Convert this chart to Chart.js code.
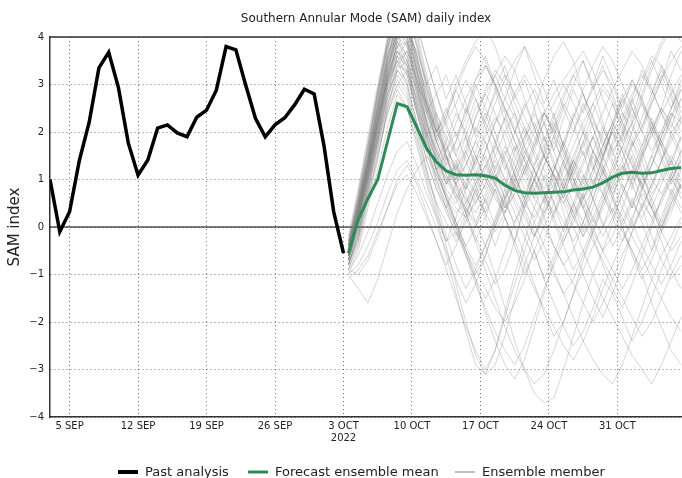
<!DOCTYPE html>
<html>
<head>
<meta charset="utf-8">
<script src="https://cdn.jsdelivr.net/npm/chart.js@4.4.1/dist/chart.umd.min.js"></script>
<style>
  html, body { margin: 0; padding: 0; background: #fff; overflow: hidden; }
  #wrap { width: 682px; height: 478px; }
</style>
</head>
<body>
<div id="wrap"><canvas id="samChart" width="682" height="478"></canvas></div>
<script>
/* SAM daily index: past analysis + forecast ensemble */

// x values are day numbers counted from 3 SEP 2022
const tickDays = [2, 9, 16, 23, 30, 37, 44, 51, 58];
const tickLabels = ["5 SEP", "12 SEP", "19 SEP", "26 SEP", ["3 OCT", "2022"], "10 OCT", "17 OCT", "24 OCT", "31 OCT"];

// past analysis, one value per day from 3 SEP to 3 OCT
const pastValues = [1.0, -0.1, 0.32, 1.4, 2.2, 3.35, 3.68, 2.93, 1.77, 1.09, 1.41, 2.08, 2.15, 1.98, 1.9, 2.31,
  2.46, 2.88, 3.8, 3.73, 2.99, 2.29, 1.9, 2.15, 2.3, 2.57, 2.9, 2.8, 1.72, 0.32, -0.55];

// forecast starts half a day after the last analysis
const forecastStart = 30.5;
const meanValues = [-0.55, 0.15, 0.6, 1.0, 1.8, 2.6, 2.53, 2.1, 1.65, 1.37, 1.18, 1.1, 1.09, 1.1, 1.08, 1.03,
  0.88, 0.77, 0.72, 0.71, 0.72, 0.73, 0.74, 0.78, 0.8, 0.84, 0.93, 1.05, 1.13, 1.15, 1.13, 1.14, 1.19, 1.23, 1.25];

const ensembleMembers = [
  [-0.6,0.2,1.1,2.0,3.0,3.6,3.2,2.5,1.8,1.2,0.6,0.3,0.5,1.0,1.6,2.2,2.5,2.1,1.4,0.8,0.2,-0.4,-0.8,-0.5,0.1,0.8,1.5,2.0,2.4,2.1,1.6,1.0,0.7,1.1,1.6],
  [-0.4,0.5,1.4,2.4,3.3,4.2,4.4,3.6,2.8,2.0,1.5,1.2,1.6,2.3,2.9,3.3,3.0,2.4,1.7,1.2,1.5,2.1,2.7,3.2,3.5,3.0,2.2,1.6,1.9,2.6,3.1,3.6,3.4,2.8,2.3],
  [-0.8,-0.3,0.6,1.5,2.4,2.9,2.5,1.7,0.9,0.2,-0.6,-1.4,-2.2,-2.9,-3.1,-2.6,-1.8,-1.0,-0.3,0.4,1.0,1.3,0.9,0.3,-0.2,0.4,1.1,1.7,2.2,1.8,1.2,0.5,0.0,0.6,1.2],
  [-0.5,0.3,1.2,2.2,3.1,3.8,3.9,3.1,2.3,1.6,1.1,0.7,0.4,0.1,-0.4,-1.0,-1.7,-2.4,-3.0,-3.5,-3.7,-3.6,-3.0,-2.3,-1.6,-1.0,-0.5,0.1,0.7,1.2,0.9,0.4,-0.1,0.3,0.9],
  [-0.7,0.0,0.9,1.8,2.7,3.4,3.7,3.0,2.1,1.4,1.0,1.3,1.9,2.5,2.8,2.4,1.8,1.1,0.5,0.2,0.6,1.2,1.8,2.4,2.0,1.3,0.7,0.2,-0.3,0.1,0.8,1.5,2.0,2.5,2.9],
  [-0.3,0.6,1.7,2.8,3.8,4.5,4.3,3.5,2.6,2.0,2.3,2.9,3.4,3.8,3.5,2.9,2.2,1.6,1.9,2.5,3.1,3.6,3.9,3.5,2.8,2.1,1.5,1.0,1.4,2.0,2.7,3.3,3.8,4.2,3.9],
  [-1.0,-0.8,-0.4,0.1,0.7,1.2,1.4,1.0,0.5,0.0,-0.5,-1.1,-1.6,-1.2,-0.6,0.1,0.8,1.4,1.9,2.2,1.7,1.0,0.3,-0.4,-1.0,-1.5,-1.9,-1.4,-0.8,-0.1,0.5,0.2,-0.3,-0.9,-1.3],
  [-0.6,0.1,1.0,2.1,3.2,4.0,4.6,4.1,3.2,2.3,1.5,0.8,0.3,-0.2,-0.7,-1.2,-0.9,-0.3,0.4,1.0,1.5,1.9,1.6,1.1,0.6,0.9,1.5,2.1,2.6,3.0,2.7,2.1,1.5,1.0,0.7],
  [-0.5,0.4,1.3,2.3,3.1,3.5,3.0,2.2,1.4,0.8,0.4,0.9,1.5,2.1,1.8,1.2,0.6,0.0,-0.6,-1.2,-1.8,-2.3,-2.0,-1.4,-0.7,-0.1,0.5,1.1,1.7,2.2,2.6,2.2,1.7,1.1,0.6],
  [-0.9,-0.4,0.5,1.4,2.5,3.3,3.5,2.9,2.0,1.3,0.6,0.1,-0.5,-1.1,-1.8,-2.4,-2.9,-3.2,-2.8,-2.1,-1.4,-0.7,-0.2,0.4,1.0,1.6,1.2,0.6,0.0,-0.6,-1.1,-0.7,-0.1,0.5,1.0],
  [-0.4,0.5,1.5,2.6,3.6,4.3,4.1,3.3,2.5,1.9,1.4,1.0,1.3,1.8,1.4,0.9,0.4,0.7,1.2,1.8,2.4,2.1,1.6,1.0,0.5,0.0,-0.5,-0.2,0.4,1.0,1.6,2.1,2.5,2.2,1.8],
  [-0.7,-0.1,0.8,1.7,2.6,3.2,2.9,2.1,1.2,0.4,-0.4,-1.2,-2.0,-2.7,-3.1,-2.9,-2.3,-1.5,-0.8,-0.2,0.3,0.8,1.3,1.0,0.4,-0.2,-0.8,-1.3,-1.7,-1.2,-0.6,0.0,0.6,1.0,1.4],
  [-0.5,0.3,1.3,2.4,3.4,4.1,4.7,4.3,3.5,2.8,2.2,2.6,3.1,2.7,2.1,1.5,1.0,0.6,0.2,-0.2,0.2,0.8,1.4,2.0,2.5,2.9,3.3,3.0,2.4,1.9,1.5,1.9,2.4,2.8,3.2],
  [-0.6,0.2,1.1,1.9,2.8,3.3,3.1,2.4,1.7,1.1,0.7,0.4,0.2,0.5,0.9,1.4,1.0,0.5,0.0,-0.5,-1.1,-1.6,-2.1,-2.5,-2.2,-1.7,-1.1,-1.4,-1.9,-2.4,-2.0,-1.5,-0.9,-0.4,0.1],
  [-0.8,-0.2,0.7,1.6,2.5,3.0,3.3,2.7,1.9,1.2,1.6,2.2,2.7,3.1,3.4,3.0,2.4,1.8,1.4,1.0,0.7,0.3,0.7,1.2,1.7,2.2,1.9,1.4,0.9,0.5,0.2,0.6,1.1,1.5,1.2],
  [-0.3,0.7,1.8,2.9,3.9,4.6,4.8,4.0,3.1,2.4,1.9,1.5,1.1,0.7,0.3,-0.1,0.3,0.9,1.5,2.0,2.4,2.8,3.1,3.4,3.7,3.3,2.7,2.2,1.8,2.2,2.8,3.4,3.9,4.3,4.6],
  [-1.1,-0.9,-0.6,-0.1,0.4,0.9,1.1,0.7,0.2,-0.3,-0.8,-0.4,0.2,0.8,1.3,1.7,1.4,0.9,0.4,-0.1,-0.6,-1.0,-1.4,-1.1,-0.6,-0.1,0.4,0.9,1.3,0.9,0.4,-0.2,-0.7,-1.1,-0.8],
  [-0.5,0.4,1.4,2.5,3.5,4.2,4.0,3.2,2.4,1.7,1.1,0.6,0.2,-0.3,-0.9,-1.5,-2.1,-2.6,-3.0,-3.3,-3.1,-2.6,-2.0,-1.4,-0.9,-0.4,0.0,0.4,0.0,-0.5,-1.0,-1.6,-2.1,-2.6,-2.9],
  [-0.6,0.2,1.2,2.2,3.2,3.9,3.6,2.8,2.0,1.4,0.9,1.2,1.7,2.3,2.8,3.2,3.6,3.3,2.7,2.1,1.5,1.1,0.8,1.2,1.8,2.4,2.9,2.6,2.1,1.6,1.1,0.7,1.0,1.4,1.9],
  [-0.7,0.1,1.0,2.0,2.9,3.5,3.7,3.1,2.2,1.4,0.7,0.1,-0.4,0.0,0.6,1.1,0.8,0.3,-0.2,-0.7,-0.3,0.3,0.9,1.5,2.0,1.6,1.1,0.6,0.2,-0.2,-0.6,-1.1,-1.5,-1.9,-2.2],
  [-0.4,0.6,1.6,2.7,3.7,4.4,4.2,3.4,2.6,2.0,1.6,1.3,0.9,0.5,0.9,1.5,2.0,2.4,2.0,1.5,1.0,0.5,0.1,-0.3,0.1,0.6,1.2,1.8,2.3,2.8,3.2,2.9,2.4,1.9,1.5],
  [-0.9,-1.0,-0.7,-0.2,0.4,1.0,1.3,0.9,0.3,-0.3,-0.9,-1.5,-2.1,-2.6,-3.0,-2.6,-1.9,-1.2,-0.5,0.1,0.6,0.9,0.5,0.0,-0.5,-1.0,-1.5,-1.9,-2.3,-2.7,-3.0,-3.3,-2.9,-2.4,-1.9],
  [-0.5,0.3,1.2,2.1,3.0,3.7,3.4,2.6,1.8,1.2,0.8,0.5,0.9,1.4,2.0,2.6,3.1,3.5,3.8,3.4,2.9,2.3,1.7,1.2,0.8,1.2,1.7,2.2,1.8,1.3,0.9,1.3,1.8,2.3,2.7],
  [-0.6,0.2,1.0,1.9,2.8,3.4,3.3,2.5,1.7,1.0,0.5,0.0,-0.5,-1.0,-0.6,0.0,0.6,1.1,1.6,1.2,0.7,0.2,-0.3,0.1,0.6,1.1,1.6,2.0,1.6,1.1,0.6,0.2,0.5,1.0,1.4],
  [-0.2,0.8,1.9,3.0,4.0,4.7,4.5,3.8,3.0,2.3,1.7,1.2,0.8,1.1,1.6,2.2,2.7,2.3,1.7,1.3,1.7,2.3,2.8,3.2,2.8,2.3,1.8,1.3,0.8,0.4,0.8,1.3,1.9,2.4,2.2],
  [-0.8,-0.2,0.6,1.5,2.4,3.0,2.7,1.9,1.1,0.5,0.1,-0.3,0.1,0.6,1.1,0.7,0.2,-0.3,-0.8,-1.3,-1.7,-2.1,-2.5,-2.8,-2.4,-1.9,-1.3,-0.8,-0.3,0.2,0.7,0.4,-0.1,-0.5,-0.2],
  [-0.5,0.4,1.3,2.3,3.3,4.0,4.3,3.6,2.7,2.0,2.4,3.0,3.5,3.9,4.2,3.8,3.2,2.6,2.1,1.6,1.2,0.8,0.5,0.9,1.4,1.9,2.4,2.9,3.3,3.7,3.4,2.9,2.4,2.0,2.3],
  [-0.7,0.0,0.9,1.8,2.7,3.3,3.0,2.2,1.4,0.8,0.3,-0.1,-0.5,-0.9,-1.3,-1.7,-2.0,-1.6,-1.1,-0.5,0.0,0.5,1.0,1.4,1.1,0.6,0.1,-0.4,0.0,0.5,1.0,1.5,1.1,0.7,0.3],
  [-0.4,0.5,1.5,2.5,3.5,4.1,3.9,3.1,2.2,1.5,1.0,0.6,1.0,1.6,2.2,1.8,1.3,0.8,0.4,0.8,1.3,1.8,1.4,0.9,0.4,-0.1,-0.5,-0.9,-1.3,-0.9,-0.4,0.1,0.6,1.1,1.6],
  [-0.6,0.3,1.2,2.2,3.2,3.8,4.2,3.5,2.6,1.8,1.2,0.7,0.3,0.7,1.2,1.8,2.3,2.8,3.2,2.8,2.2,1.6,1.0,0.5,0.1,-0.3,-0.7,-1.1,-1.5,-1.9,-2.3,-2.0,-1.5,-1.0,-0.6],
  [-1.0,-0.5,0.4,1.2,2.1,2.8,2.5,1.8,1.0,0.3,-0.3,0.2,0.8,1.4,1.9,2.3,2.0,1.5,1.0,0.6,0.3,0.7,1.2,1.7,2.2,2.6,3.0,2.7,2.2,1.7,2.1,2.6,3.1,3.5,3.8],
  [-0.5,0.4,1.4,2.4,3.4,4.1,4.5,3.9,3.0,2.2,1.5,0.9,0.4,0.0,0.4,0.9,1.5,2.0,2.5,2.9,2.5,1.9,1.3,0.8,0.4,0.8,1.3,0.9,0.4,0.0,0.4,0.9,1.4,1.8,2.2],
  [-0.7,0.1,1.0,1.9,2.9,3.6,3.4,2.7,1.9,1.2,0.6,0.1,-0.4,-0.8,-0.4,0.1,0.6,1.0,0.6,0.1,-0.4,-0.9,-1.4,-1.9,-2.4,-2.8,-3.1,-3.3,-2.9,-2.3,-1.7,-1.1,-0.6,-0.2,0.2],
  [-0.3,0.7,1.7,2.8,3.8,4.4,4.6,3.8,2.9,2.1,1.4,1.8,2.3,2.9,3.4,3.0,2.5,2.0,1.6,1.2,0.8,1.2,1.7,2.3,2.9,3.4,3.8,3.5,3.0,2.5,2.0,1.6,2.0,2.5,3.0],
  [-0.6,0.2,1.1,2.1,3.0,3.5,3.2,2.4,1.6,0.9,0.4,0.0,0.4,0.9,1.3,0.9,0.5,0.1,0.5,1.0,1.5,1.1,0.6,0.2,-0.2,0.2,0.7,1.2,1.7,1.3,0.8,0.4,0.0,0.4,0.9],
  [-0.8,-0.1,0.8,1.7,2.6,3.1,2.8,2.0,1.2,0.5,-0.2,-0.8,-1.3,-0.9,-0.4,0.2,0.7,1.2,1.7,2.1,2.4,2.0,1.5,1.0,0.6,0.2,-0.2,0.2,0.7,1.2,1.7,2.1,1.7,1.2,0.8],
  [-0.4,0.5,1.5,2.6,3.6,4.2,4.0,3.3,2.5,1.8,1.3,0.9,0.6,0.3,0.7,1.2,1.7,1.3,0.8,0.4,0.0,-0.4,-0.8,-1.2,-1.6,-2.0,-1.6,-1.1,-0.6,-0.1,0.4,0.9,1.4,1.9,2.3],
  [-0.5,0.3,1.3,2.2,3.1,3.7,3.5,2.8,2.0,1.4,1.8,2.4,2.0,1.5,1.0,0.6,0.3,0.7,1.2,1.7,2.2,2.6,3.0,2.6,2.1,1.6,1.2,0.8,1.2,1.7,2.3,2.8,3.3,2.9,2.5],
  [-0.9,-0.6,-0.1,0.5,1.1,1.6,1.8,1.3,0.7,0.2,-0.3,-0.1,-0.6,-1.1,-1.5,-1.1,-0.5,0.1,0.6,1.0,0.6,0.1,-0.4,-0.9,-0.5,0.0,0.5,1.0,0.6,0.1,-0.4,-0.8,-1.2,-0.8,-0.3],
  [-0.6,0.2,1.2,2.3,3.3,4.0,3.8,3.0,2.2,1.6,1.2,0.9,1.3,1.8,2.3,2.8,3.2,2.8,2.3,1.9,1.5,1.1,0.7,0.3,0.7,1.2,1.7,2.2,2.7,3.1,2.7,2.2,1.8,1.4,1.0],
  [-1.0,-1.3,-1.6,-1.1,-0.4,0.3,0.8,1.2,1.5,1.1,0.6,0.0,-0.6,-1.2,-1.7,-2.2,-2.6,-2.9,-2.5,-1.9,-1.3,-0.8,-0.3,0.2,0.6,1.0,0.7,0.3,-0.1,-0.5,-0.9,-0.5,0.0,0.5,0.9],
  [-0.6,0.3,1.3,2.5,3.6,4.3,3.9,3.0,2.6,1.9,2.2,1.6,1.9,1.2,0.8,1.3,0.9,1.6,2.1,1.7,2.4,2.0,2.6,2.2,1.5,1.9,1.3,0.7,1.1,1.8,1.4,2.0,2.5,2.1,2.7],
  [-0.7,0.0,1.0,2.2,3.3,4.1,4.4,3.4,2.9,2.2,1.6,2.0,1.4,0.9,1.5,1.0,0.4,0.9,0.3,-0.2,0.4,1.1,0.6,1.3,1.8,1.2,2.0,2.6,2.0,2.7,3.3,2.8,3.4,3.0,2.4],
  [-0.5,0.4,1.4,2.6,3.7,4.6,4.2,3.3,2.4,2.8,2.1,1.5,2.1,2.7,2.2,2.9,3.4,2.7,3.1,2.5,1.8,2.4,1.7,1.1,1.6,0.9,1.4,2.1,1.6,1.0,1.5,2.2,1.7,2.3,2.9],
  [-0.8,-0.1,0.8,1.9,3.0,3.9,3.5,2.6,1.9,1.2,1.5,0.9,0.3,0.8,0.2,-0.4,0.2,-0.3,0.5,1.0,0.5,1.2,1.8,1.3,0.8,1.5,0.9,0.3,0.9,0.4,1.1,0.6,0.1,0.7,1.3],
  [-0.4,0.6,1.7,2.9,3.9,4.7,4.1,3.7,3.0,3.4,2.7,3.2,2.6,1.9,2.4,1.8,1.2,1.7,1.1,1.6,2.2,1.6,2.3,2.9,2.4,3.0,3.6,3.1,2.5,3.1,2.6,2.0,2.5,3.2,3.7],
  [-0.6,0.2,1.2,2.3,3.4,4.0,3.6,2.9,2.1,1.6,0.9,1.4,0.8,1.5,1.0,1.7,2.3,1.8,1.2,0.6,1.1,0.5,-0.1,0.5,1.1,0.6,0.0,0.6,1.3,0.8,1.5,2.0,1.4,0.9,1.5],
  [-0.9,-0.3,0.7,1.8,2.8,3.6,3.9,3.1,2.4,1.8,2.3,2.9,2.4,3.1,3.6,3.0,2.5,2.0,2.6,2.1,1.5,0.9,1.4,0.8,1.3,1.9,1.4,2.1,2.7,2.2,1.7,2.3,1.8,1.3,1.9],
  [-0.5,0.4,1.5,2.7,3.8,4.5,4.9,4.2,3.5,2.8,3.2,2.5,1.9,1.3,1.8,1.1,0.6,1.2,1.8,2.4,1.9,1.3,0.8,0.2,0.7,0.1,0.6,1.3,1.9,2.5,2.0,2.6,3.1,3.7,3.3],
  [-0.7,0.1,1.1,2.2,3.2,3.8,3.4,2.5,1.9,2.4,1.8,1.1,0.5,0.9,0.3,0.8,0.2,-0.4,-1.0,-0.5,-1.1,-0.6,0.0,0.5,-0.1,0.6,1.2,0.7,0.1,0.6,0.1,-0.5,0.2,0.8,0.4],
  [-0.6,0.3,1.4,2.5,3.5,4.4,4.0,3.2,2.5,1.8,1.3,1.8,2.5,2.0,2.6,3.2,2.7,3.3,3.8,3.2,2.6,3.1,2.5,2.0,2.6,2.1,1.5,2.0,1.4,0.9,1.4,0.8,1.4,2.0,1.6],
  [-0.8,-0.2,0.9,2.0,3.1,3.7,3.3,2.4,1.7,1.0,0.4,-0.2,0.3,-0.3,0.2,0.8,0.3,1.0,1.5,1.0,1.6,2.2,1.7,2.3,2.8,2.3,1.7,2.2,2.8,2.3,3.0,3.5,3.0,2.5,3.1],
  [-0.4,0.5,1.6,2.8,3.9,4.8,4.3,3.6,2.7,2.1,1.5,1.0,1.6,1.1,0.5,1.0,1.6,1.1,0.6,1.2,0.7,0.2,0.8,1.4,0.9,1.6,2.1,1.6,1.0,1.5,0.9,0.4,0.9,1.4,0.8],
  [-0.7,0.1,1.1,2.1,3.1,3.9,4.2,3.3,2.6,2.0,2.5,1.9,2.4,3.0,2.5,2.0,1.4,0.8,1.3,0.7,1.3,1.9,2.5,3.0,3.5,2.9,3.4,2.8,2.2,2.7,2.1,2.7,3.2,2.7,2.2],
  [-0.5,0.3,1.3,2.4,3.5,4.2,3.8,2.9,2.2,1.5,0.9,1.3,0.7,0.1,0.6,0.0,0.5,1.1,0.6,1.3,1.9,1.4,0.8,1.4,2.0,2.6,2.1,1.5,2.0,1.4,0.8,1.3,1.9,2.4,2.0]
];

const FONT = "'DejaVu Sans', sans-serif";
const PAST_COLOR = "#000000";
const MEAN_COLOR = "#2e8b57";
const MEMBER_COLOR = "rgba(120,120,120,0.3)";

const pastPoints = pastValues.map((v, i) => ({ x: i, y: v }));
const forecastPoints = (vals) => vals.map((v, i) => ({ x: forecastStart + i, y: v }));

const datasets = [
  { label: "Past analysis", data: pastPoints, borderColor: PAST_COLOR, borderWidth: 3.5 },
  { label: "Forecast ensemble mean", data: forecastPoints(meanValues), borderColor: MEAN_COLOR, borderWidth: 3 },
  ...ensembleMembers.map((vals, i) => ({
    label: i === 0 ? "Ensemble member" : "",
    data: forecastPoints(vals),
    borderColor: MEMBER_COLOR,
    borderWidth: 1
  }))
];

const legendItems = [
  { text: "Past analysis", color: PAST_COLOR, width: 4, x: 118 },
  { text: "Forecast ensemble mean", color: MEAN_COLOR, width: 3, x: 248 },
  { text: "Ensemble member", color: "#aaaaaa", width: 1.5, x: 455 }
];

const decorPlugin = {
  id: "decor",
  beforeDatasetsDraw(chart) {
    const { ctx, chartArea: a, scales: { y } } = chart;
    const y0 = y.getPixelForValue(0);
    ctx.save();
    ctx.strokeStyle = "#000";
    ctx.lineWidth = 1.2;
    ctx.beginPath();
    ctx.moveTo(a.left, y0);
    ctx.lineTo(a.right, y0);
    ctx.stroke();
    ctx.restore();
  },
  afterDraw(chart) {
    const { ctx, chartArea: a } = chart;
    ctx.save();
    // top frame line
    ctx.strokeStyle = "#333";
    ctx.lineWidth = 1.5;
    ctx.beginPath();
    ctx.moveTo(a.left, a.top);
    ctx.lineTo(a.right, a.top);
    ctx.stroke();
    // title
    ctx.fillStyle = "#222";
    ctx.font = "12px " + FONT;
    ctx.textAlign = "center";
    ctx.textBaseline = "middle";
    ctx.fillText("Southern Annular Mode (SAM) daily index", (a.left + a.right) / 2, 19);
    // legend
    ctx.font = "13px " + FONT;
    ctx.textAlign = "left";
    legendItems.forEach((item) => {
      ctx.strokeStyle = item.color;
      ctx.lineWidth = item.width;
      ctx.beginPath();
      ctx.moveTo(item.x, 472);
      ctx.lineTo(item.x + 20, 472);
      ctx.stroke();
      ctx.fillStyle = "#222";
      ctx.fillText(item.text, item.x + 27, 473);
    });
    ctx.restore();
  }
};

new Chart(document.getElementById("samChart"), {
  type: "line",
  data: { datasets },
  options: {
    responsive: false,
    animation: false,
    layout: { padding: { top: 37, right: 0, left: 0, bottom: 0 } },
    elements: { point: { radius: 0 }, line: { tension: 0 } },
    plugins: { legend: { display: false }, tooltip: { enabled: false }, title: { display: false } },
    scales: {
      x: {
        type: "linear",
        min: 0,
        max: 64.6,
        afterBuildTicks: (scale) => { scale.ticks = tickDays.map((v) => ({ value: v })); },
        afterFit: (scale) => { scale.height = 61; },
        ticks: {
          autoSkip: false,
          maxRotation: 0,
          padding: 3,
          color: "#222",
          font: { family: FONT, size: 10 },
          callback: (value) => tickLabels[tickDays.indexOf(value)]
        },
        grid: { color: "rgba(0,0,0,0.55)", lineWidth: 1, drawTicks: false },
        border: { display: true, color: "#333", width: 1.5, dash: [1, 3] }
      },
      y: {
        min: -4,
        max: 4,
        afterFit: (scale) => { scale.width = 50; },
        ticks: {
          stepSize: 1,
          padding: 6,
          color: "#222",
          font: { family: FONT, size: 10 },
          callback: (value) => String(value).replace("-", "\u2212")
        },
        grid: { color: "rgba(0,0,0,0.55)", lineWidth: 1, drawTicks: false },
        border: { display: true, color: "#333", width: 1.5, dash: [1, 3] },
        title: { display: true, text: "SAM index", color: "#222", font: { family: FONT, size: 15 }, padding: { top: 6, bottom: 0 } }
      }
    }
  },
  plugins: [decorPlugin]
});
</script>
</body>
</html>
